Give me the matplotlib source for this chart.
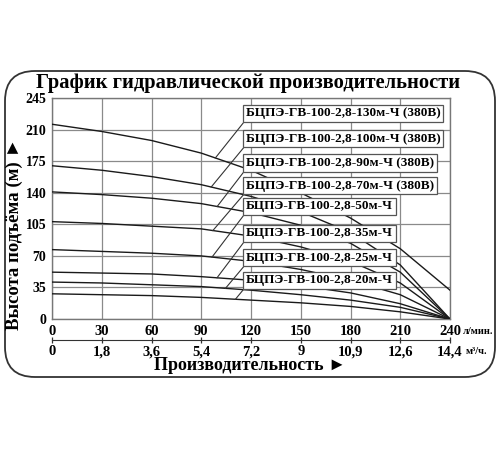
import numpy as np
import matplotlib.pyplot as plt
from matplotlib.patches import FancyBboxPatch

# Подача, л/мин и м3/ч
flow = [0, 30, 60, 90, 120, 150, 180, 210, 240]
flow_m3 = ["0", "1,8", "3,6", "5,4", "7,2", "9", "10,9", "12,6", "14,4"]
head_ticks = [0, 35, 70, 105, 140, 175, 210, 245]

# Напор (м) по подаче для каждого насоса
h_130 = [216, 208, 198, 184, 165, 140, 112, 78, 32]
h_100 = [170, 165, 158, 149, 136, 119, 96, 60, 0]
h_90 = [141, 138, 134, 128, 118, 104, 84, 52, 0]
h_70 = [108, 106, 103, 100, 92, 80, 64, 40, 0]
h_50 = [77, 75, 73, 70, 64, 55, 43, 27, 0]
h_35 = [52, 51, 50, 47, 43, 37, 29, 17, 0]
h_25 = [41, 40, 38, 36, 32, 27, 21, 13, 0]
h_20 = [28, 27, 26, 24, 21, 18, 14, 8, 0]

models = ["БЦПЭ-ГВ-100-2,8-130м-Ч (380В)", "БЦПЭ-ГВ-100-2,8-100м-Ч (380В)",
          "БЦПЭ-ГВ-100-2,8-90м-Ч (380В)", "БЦПЭ-ГВ-100-2,8-70м-Ч (380В)",
          "БЦПЭ-ГВ-100-2,8-50м-Ч", "БЦПЭ-ГВ-100-2,8-35м-Ч",
          "БЦПЭ-ГВ-100-2,8-25м-Ч", "БЦПЭ-ГВ-100-2,8-20м-Ч"]
curves = [h_130, h_100, h_90, h_70, h_50, h_35, h_25, h_20]

SERIF = ["Liberation Serif", "DejaVu Serif"]
ARROW = ["Liberation Serif", "DejaVu Sans"]

fig = plt.figure(figsize=(5, 4.5), dpi=100)
fig.patch.set_facecolor("white")

# Рамка со скруглёнными углами
fig.add_artist(FancyBboxPatch((0.05, 0.73), 4.9, 3.06,
                              boxstyle="round,pad=0,rounding_size=0.3",
                              transform=fig.dpi_scale_trans,
                              fc="none", ec="#333333", lw=1.3))

ax = fig.add_axes([0.104, 0.291, 0.796, 0.491])
ax.set_xlim(0, 240)
ax.set_ylim(0, 245)
ax.set_xticks(flow)
ax.set_yticks(head_ticks)
ax.grid(True, color="#8a8a8a", lw=0.9)
for s in ax.spines.values():
    s.set_color("#777777")
    s.set_linewidth(1.0)
ax.tick_params(length=0, labelsize=10.5)
ax.tick_params(axis="x", pad=4)
ax.tick_params(axis="y", pad=4, labelsize=10)
for lab in ax.get_xticklabels() + ax.get_yticklabels():
    lab.set_fontfamily(SERIF)
    lab.set_fontweight("bold")

for h in curves:
    ax.plot(flow, h, color="#1a1a1a", lw=1.0, zorder=3)

# Подписи моделей с выносками
label_y = [228, 200, 173, 148, 125, 95, 68, 43]
leader_q = [98.5, 96, 99.6, 97, 96.5, 99.5, 104.6, 110.6]
for name, h, yc, lq in zip(models, curves, label_y, leader_q):
    ax.plot([116, lq], [yc - 9, np.interp(lq, flow, h)],
            color="#333333", lw=0.8, zorder=4)
    ax.text(117, yc, name, fontsize=9.5, fontweight="bold", family=SERIF,
            ha="left", va="center", zorder=6,
            bbox=dict(boxstyle="square,pad=0.2", fc="white", ec="#555555", lw=0.9))

# Вторая шкала в м3/ч
ax2 = ax.twiny()
ax2.set_xlim(0, 240)
ax2.xaxis.set_ticks_position("bottom")
ax2.spines["bottom"].set_position(("outward", 15))
for side in ["top", "left", "right"]:
    ax2.spines[side].set_visible(False)
ax2.spines["bottom"].set_color("#333333")
ax2.set_xticks(flow)
ax2.set_xticklabels(flow_m3)
ax2.tick_params(axis="x", direction="inout", length=5, width=0.9,
                color="#333333", labelsize=10.5, pad=1.5)
for lab in ax2.get_xticklabels():
    lab.set_fontfamily(SERIF)
    lab.set_fontweight("bold")

fig.text(0.926, 1 - 331 / 450, "л/мин.", fontsize=7.5, fontweight="bold",
         family=SERIF, ha="left", va="center")
fig.text(0.932, 1 - 352 / 450, "м³/ч.", fontsize=7.5, fontweight="bold",
         family=SERIF, ha="left", va="center")

fig.text(0.497, 1 - 83 / 450, "График гидравлической производительности",
         fontsize=14.8, fontweight="bold", family=SERIF, ha="center", va="center")
fig.text(0.5, 1 - 366 / 450, "Производительность ►", fontsize=13,
         fontweight="bold", family=ARROW, ha="center", va="center")
fig.text(0.029, 1 - 234 / 450, "Высота подъёма (м) ►", fontsize=13.5,
         fontweight="bold", family=ARROW, ha="center", va="center", rotation=90)

fig.savefig("out.png", dpi=100)
